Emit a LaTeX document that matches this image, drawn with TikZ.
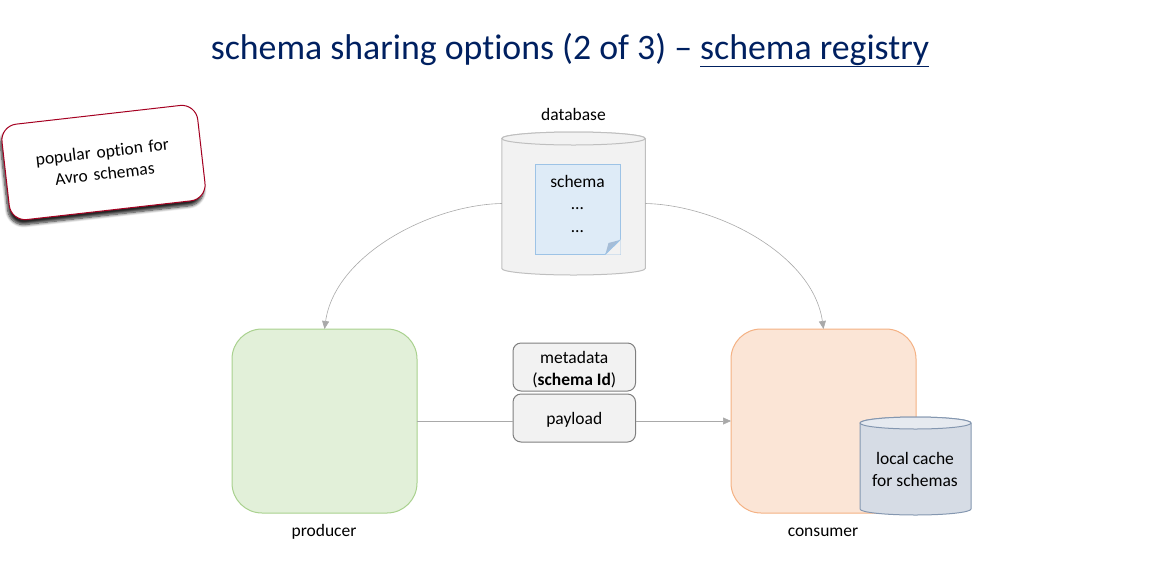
\documentclass[tikz,border=0pt]{standalone}
\usepackage{fontspec}
\setmainfont[Ligatures=NoCommon]{Carlito}
\usetikzlibrary{arrows.meta,shadows.blur,calc}
\definecolor{navy}{HTML}{002060}
\definecolor{linegray}{HTML}{A9A9A9}
\definecolor{notered}{HTML}{A50021}
\definecolor{prodfill}{HTML}{E2F0D9}
\definecolor{proddraw}{HTML}{A9D18E}
\definecolor{consfill}{HTML}{FBE5D6}
\definecolor{consdraw}{HTML}{F4B183}
\definecolor{docfill}{HTML}{DEEBF7}
\definecolor{docdraw}{HTML}{9DC3E6}
\definecolor{foldfill}{HTML}{A6BDD7}
\definecolor{dbfill}{HTML}{F2F2F2}
\definecolor{dbdraw}{HTML}{BFBFBF}
\definecolor{cachefill}{HTML}{D6DCE5}
\definecolor{cachetop}{HTML}{E6EAF0}
\definecolor{cachedraw}{HTML}{8497B0}
\definecolor{msgdraw}{HTML}{7F7F7F}
\tikzset{
  lbl/.style={font=\fontsize{17.5}{22}\selectfont,align=center,text=black,inner sep=0pt},
  proc/.style={draw,line width=1pt,rounded corners=30pt,minimum width=185pt,minimum height=184pt,inner sep=0pt,outer sep=0pt},
  msg/.style={draw=msgdraw,fill=dbfill,line width=1pt,rounded corners=8pt,minimum width=122.5pt,minimum height=48pt,inner sep=0pt,outer sep=0pt},
  cylbox/.style={inner sep=0pt,outer sep=0pt,draw=none},
  conn/.style={draw=linegray,line width=0.6pt,-{Triangle[length=8pt,width=7pt,fill=linegray]}},
  plainconn/.style={draw=linegray,line width=0.6pt},
}
% \cylshape{node}{ry}{draw}{body}{end}
\newcommand{\cylshape}[5]{%
  \path let \p1=(#1.north west), \p2=(#1.south east), \n1={(\x2-\x1)/2} in
    [fill=#4,draw=#3,line width=1pt]
    (\x1,\y1-#2pt) -- (\x1,\y2+#2pt) arc[start angle=180,end angle=360,x radius=\n1,y radius=#2pt]
    -- (\x2,\y1-#2pt) arc[start angle=0,end angle=180,x radius=\n1,y radius=#2pt] -- cycle;
  \path let \p1=(#1.north west), \p2=(#1.south east), \n1={(\x2-\x1)/2} in
    [fill=#5,draw=#3,line width=1pt]
    (\x1,\y1-#2pt) arc[start angle=180,end angle=540,x radius=\n1,y radius=#2pt] -- cycle;
}
\begin{document}
\begin{tikzpicture}[x=1pt,y=-1pt]
\useasboundingbox (0,0) rectangle (1155,579);
\node[font=\fontsize{35.8}{42}\selectfont,text=navy,inner sep=0pt] (title) at (570,50) {schema sharing options (2 of 3) – \underline{schema registry}};
% callout
\node[draw=notered,fill=white,line width=1pt,rounded corners=16pt,minimum width=197pt,minimum height=96pt,rotate=6.5,
  blur shadow={shadow xshift=-1.5pt,shadow yshift=-5pt,shadow blur steps=8,shadow blur radius=3pt,shadow opacity=85},
  lbl,text width=160pt] (note) at (103.5,162.5) {popular option for\\Avro schemas};
% database
\node[lbl] (dblabel) at (573.5,114) {database};
\node[cylbox,minimum width=143.5pt,minimum height=143pt] (db) at (573.5,203.5) {};
\cylshape{db}{6.5}{dbdraw}{dbfill}{dbfill}
\node[draw=docdraw,fill=docfill,line width=1pt,minimum width=85pt,minimum height=90pt,inner sep=0pt,outer sep=0pt] (doc) at (577.5,209) {};
\node[lbl,anchor=north,font=\fontsize{17.5}{22.5}\selectfont] (doctext) at (577.5,175) {schema\\…\\…};
\fill[dbfill] (doc.south east) ++(0.6,0.6) -- ++(-15,0) -- ++(15,-15) -- cycle;
\fill[foldfill] (605.5,254) -- (608.5,243) -- (620,240) -- cycle;
\draw[draw=docdraw,line width=1pt] (605.5,254) -- (620,240);
% processes
\node[proc,draw=proddraw,fill=prodfill] (producer) at (324.5,421) {};
\node[proc,draw=consdraw,fill=consfill] (consumer) at (823.5,421) {};
\node[lbl] (plabel) at (324,532) {producer};
\node[lbl] (clabel) at (823,532) {consumer};
% cache
\node[cylbox,minimum width=111pt,minimum height=98pt] (cache) at (915.5,466) {};
\cylshape{cache}{6}{cachedraw}{cachefill}{cachetop}
\node[lbl] (cachetext) at (915,469.5) {local cache\\for schemas};
% messages
\node[msg] (meta) at (574.25,367) {};
\node[lbl] (metatext) at (574.25,369.5) {metadata\\(\textbf{schema Id})};
\node[msg] (payload) at (574.25,418) {};
\node[lbl] (payloadtext) at (574.25,420) {payload};
% connectors
\draw[conn] (db.west) .. controls (430,205) and (335,255) .. (producer.north);
\draw[conn] (db.east) .. controls (718,205) and (813,255) .. (consumer.north);
\draw[plainconn] (producer.east) -- (producer.east -| payload.west);
\draw[conn] (consumer.west -| payload.east) -- (consumer.west);
\end{tikzpicture}
\end{document}
